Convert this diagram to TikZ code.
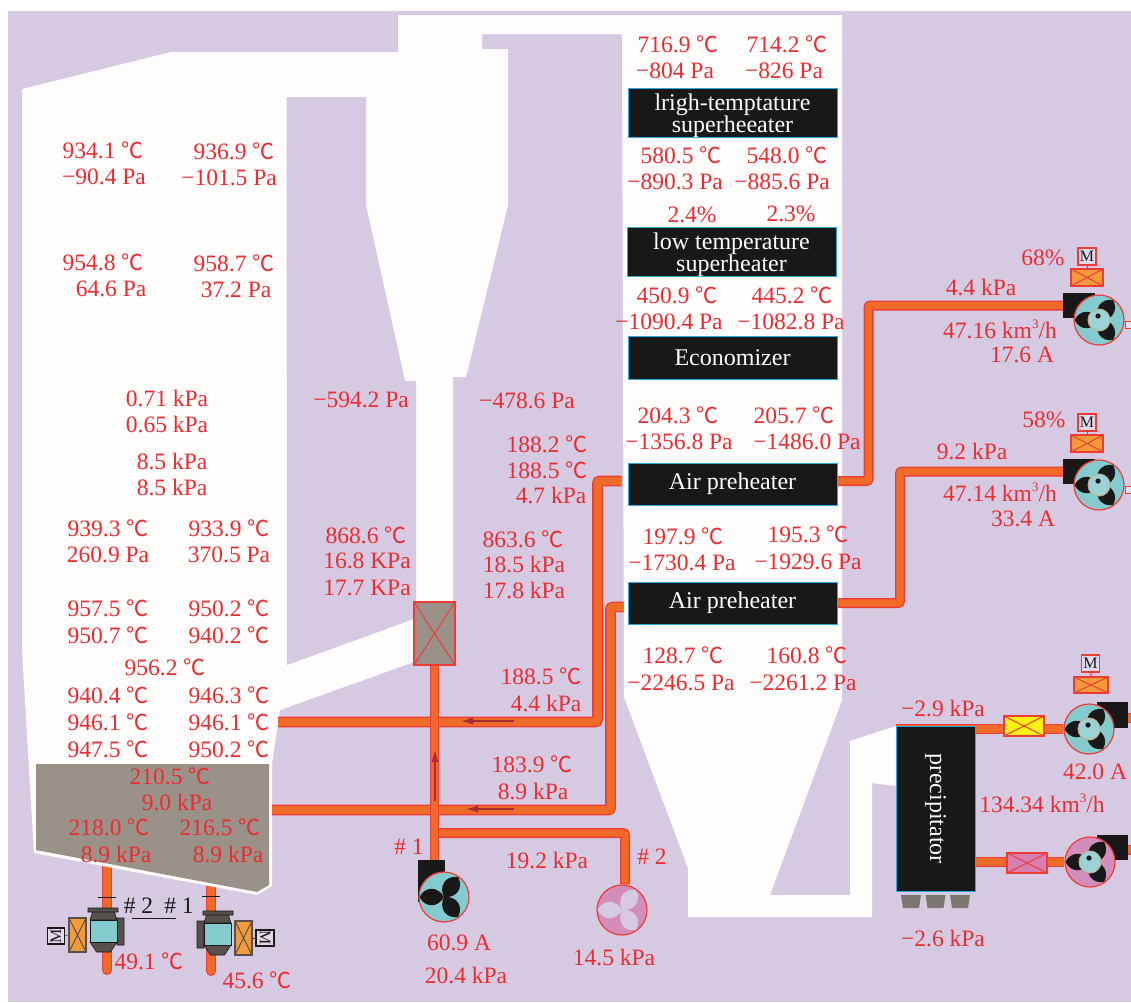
\documentclass[tikz,border=0pt]{standalone}
\usepackage{fontspec}
\setmainfont{Liberation Serif}
\newfontfamily\cjk{Noto Sans CJK SC}
\usepackage{xcolor}
\usepackage{tikz}
\usetikzlibrary{positioning, arrows.meta}
\definecolor{lavbg}{HTML}{D6CAE2}
\definecolor{whitefur}{HTML}{FEFDFC}
\definecolor{valred}{HTML}{EA2B2F}
\definecolor{pipeorange}{HTML}{F06A28}
\definecolor{pipered}{HTML}{EE3B36}
\definecolor{boxblack}{HTML}{181818}
\definecolor{boxcyan}{HTML}{29A9E0}
\definecolor{hullgray}{HTML}{9A9189}
\definecolor{flowred}{HTML}{A62B37}
\definecolor{fanteal}{HTML}{84CBCF}
\definecolor{fanpink}{HTML}{D38DBB}
\definecolor{hubteal}{HTML}{9BD2D5}
\definecolor{hubtan}{HTML}{C2AE94}
\definecolor{dampyellow}{HTML}{FFF212}
\definecolor{damporange}{HTML}{F39A3B}
\definecolor{damppink}{HTML}{D67FB0}
\definecolor{feedgray}{HTML}{57514D}
\definecolor{ashgray}{HTML}{7C7670}
\newcommand{\dg}{{\cjk\fontsize{22}{22}\selectfont ℃}}
\newcommand{\cube}{\raisebox{.42em}{\fontsize{13}{13}\selectfont 3}}
\pgfdeclarelayer{under}
\pgfsetlayers{under,main}

\begin{document}
\begin{tikzpicture}[
    x=1pt, y=-1pt,
    val/.style={text=valred, font=\fontsize{23.5}{25}\selectfont, inner sep=0pt},
    dark/.style={text=boxblack, font=\fontsize{23.5}{25}\selectfont, inner sep=0pt},
    unit/.style={draw=boxcyan, fill=boxblack, text=white, line width=1pt, minimum width=209pt, align=center,
        inner sep=0pt, font=\fontsize{24}{21}\selectfont},
    pipe/.style={draw=pipered, double=pipeorange, double distance=7.4pt, line width=1.3pt, rounded corners=2pt},
    flow/.style={draw=flowred, line width=1.3pt, -{Latex[length=12pt,width=7pt]}},
    fan/.style={circle, draw=pipered, line width=1.2pt, minimum size=50pt, inner sep=0pt},
    fanbox/.style={fill=boxblack, inner sep=0pt},
    xline/.style={pipered},
    damper/.style={draw=pipered, line width=1.2pt, inner sep=0pt,
        path picture={\draw[xline, line width=1pt]
            (path picture bounding box.north west) -- (path picture bounding box.south east)
            (path picture bounding box.north east) -- (path picture bounding box.south west);}},
    mbox/.style={draw=pipered, fill=lavbg!70!white, line width=1.1pt, minimum width=18pt, minimum height=17pt,
        inner sep=0pt, text=boxblack, font=\fontsize{16}{16}\selectfont},
    wheel/.pic={\foreach \a in {180,-55,55}
        \path[pic actions, rotate=\a] (24.5,0) .. controls (19,11) and (6,11) .. (0,0) .. controls (6,-11) and (19,-11) .. (24.5,0);},
    hub/.pic={\path[draw=hubtan, fill=hubteal, line width=1pt] (0,0) circle (11pt);
        \fill[boxblack] (-1,-4) circle (2.6pt);},
    feeder/.pic={\path[draw=boxblack, fill=feedgray, line width=.6pt] (-15.5,-23) rectangle (14.5,-19)
            (-11,-19) -- (11,-19) -- (13.5,-11) -- (-13.5,-11) -- cycle
            (-13.5,11) -- (13.5,11) -- (7,21) -- (-7,21) -- cycle
            (13.5,-13) rectangle (20.5,14);
        \path[draw=boxblack, fill=fanteal, line width=.8pt] (-13.5,-11) rectangle (13.5,11);},
]
\useasboundingbox (0,0) rectangle (1131,1002);

\begin{pgfonlayer}{under}
\fill[lavbg] (7.5,10.5) rectangle (1131,1002);
% coal feeder pipes
\coordinate (ftb) at (107,860);
\coordinate (feb) at (107,970);
\coordinate (fta) at (211,880);
\coordinate (fea) at (211,971);
\draw[pipe, line cap=round] (ftb) -- (feb);
\draw[pipe, line cap=round] (fta) -- (fea);
% furnace, cyclone and return duct
\fill[whitefur] (22,89) -- (171,52) -- (398,52) -- (398,15) -- (842,15) -- (842,700) -- (770,895) -- (850,895)
    -- (850,741) -- (896,726) -- (896,786) -- (872,783) -- (872,917) -- (688,917) -- (688,868) -- (624,697)
    -- (622,34) -- (482,34) -- (482,49) -- (508,49) -- (508,205) -- (466,377) -- (453,377) -- (453,665)
    -- (414,662) -- (280,710) -- (272,764) -- (272,886) -- (257,895) -- (34,853) -- (22,650) -- cycle;
\fill[lavbg] (286.5,97) -- (366,97) -- (366,205) -- (405,381) -- (416,381) -- (416,602) -- (414,619) -- (287,665) -- cycle;
\fill[hullgray] (36,764) -- (269,764) -- (269,885) -- (257,892) -- (36,850) -- cycle;
\end{pgfonlayer}

% heating surfaces
\node[unit, minimum height=48pt] (hts) at (732.5,113) {\rule{0pt}{22pt}lrigh-temptature\\superheeater};
\node[unit, minimum height=48pt] (lts) at (731.5,252) {\rule{0pt}{22pt}low temperature\\superheater};
\node[unit, minimum height=43pt] (eco) at (732.5,357.5) {Economizer};
\node[unit, minimum height=42pt] (apa) at (732.5,484) {\raisebox{-2pt}{Air preheater}};
\node[unit, minimum height=42pt] (apb) at (732.5,603) {\raisebox{-2pt}{Air preheater}};
\node[unit, rotate=-90, minimum width=165pt, minimum height=79pt] (prec) at (935.5,808.5) {precipitator};
\foreach \ax in {911, 935.5, 960}
    \fill[ashgray] (\ax-10,895) -- (\ax+10,895) -- (\ax+8,908) -- (\ax-8,908) -- cycle;

% fans
\node[fanbox, minimum width=32pt, minimum height=25pt] (fboxa) at (1079,305.5) {};
\node[fanbox, minimum width=32pt, minimum height=25pt] (fboxb) at (1079,471.5) {};
\node[fanbox, minimum width=31pt, minimum height=26pt] (fboxc) at (1112.5,715) {};
\node[fanbox, minimum width=31pt, minimum height=25pt] (fboxd) at (1112.5,847.5) {};
\node[fanbox, minimum width=27pt, minimum height=42pt] (fboxe) at (431.5,881) {};
\node[fan, fill=fanteal] (fana) at (1099,320) {};
\node[fan, fill=fanteal] (fanb) at (1099,485) {};
\node[fan, fill=fanteal] (fanc) at (1089,729) {};
\node[fan, fill=fanpink] (fand) at (1090,862) {};
\node[fan, fill=fanteal] (fane) at (444,897) {};
\node[fan, fill=fanpink] (fanf) at (622,910) {};
\foreach \wn in {fana, fanb, fanc, fand} {
    \pic[fill=boxblack] at (\wn) {wheel};
    \pic at (\wn) {hub};
}
\pic[fill=boxblack] at (fane) {wheel};
\pic[fill=lavbg] at (fanf) {wheel};

% dampers and motors
\node[damper, fill=hullgray, minimum width=41pt, minimum height=63pt] (xbox) at (434.5,633.5) {};
\node[damper, fill=dampyellow, minimum width=40pt, minimum height=20pt] (dmpy) at (1024,726) {};
\node[damper, fill=damppink, minimum width=40pt, minimum height=20pt] (dmpp) at (1027,863) {};
\node[damper, fill=damporange, minimum width=32pt, minimum height=17pt] (dmpa) at (1087,277.5) {};
\node[damper, fill=damporange, minimum width=32pt, minimum height=17pt] (dmpb) at (1087,443.5) {};
\node[damper, fill=damporange, minimum width=34pt, minimum height=16pt] (dmpc) at (1091,685) {};
\node[mbox] (ma) at (1087,256.5) {M};
\node[mbox] (mb) at (1087,422.5) {M};
\node[mbox] (mc) at (1090.5,663.5) {M};
\draw[pipered, line width=1pt] (ma) -- (dmpa);
\draw[pipered, line width=1pt] (mb) -- (dmpb);
\draw[pipered, line width=1pt] (mc) -- (dmpc);

\begin{pgfonlayer}{under}
\coordinate (fura) at (278,722);
\coordinate (furb) at (272,810);
\coordinate (pjn) at (435,833);
\draw[pipe] ([yshift=3pt]apa.east) -- ++(31,0) |- (fboxa.west);
\draw[pipe] (apb.east) -- ++(62.5,0) |- (fboxb.west);
\draw[pipe, double distance=8pt, shorten <=6pt] ([yshift=3pt]apa.west) -- ++(-30,0) |- (fura);
\draw[pipe, double distance=8pt, shorten <=4pt] ([yshift=-4pt]apb.west) -- ++(-17,0) |- (furb);
\draw[pipe] (pjn) -| ([xshift=3pt]fanf.north);
\draw[pipe, double distance=6.3pt] (xbox.south) -- (xbox.south |- fboxe.north);
\draw[pipe] (prec.south |- fanc) -- (fanc);
\draw[pipe] (prec.south |- fand) -- (fand);
\draw[pipe] ([yshift=-3pt]fboxc.east) -- ++(3,0);
\draw[pipe] ([yshift=-2pt]fboxd.east) -- ++(3,0);
\draw[pipered, fill=lavbg!60!white, line width=1pt] (1125,321) rectangle (1133,328);
\draw[pipered, fill=lavbg!60!white, line width=1pt] (1125,486) rectangle (1133,493);
\end{pgfonlayer}

% flow arrows
\coordinate (fla) at (514,721);
\coordinate (flb) at (461,721);
\coordinate (flc) at (514,809);
\coordinate (fld) at (466,809);
\coordinate (fle) at (435,801);
\coordinate (flf) at (435,750);
\draw[flow] (fla) -- (flb);
\draw[flow] (flc) -- (fld);
\draw[flow] (fle) -- (flf);

% coal feeders
\pic at (103.5,931) {feeder};
\pic[xscale=-1] at (217.5,934) {feeder};
\node[damper, draw=feedgray, xline/.style={feedgray}, fill=damporange, minimum width=17pt, minimum height=34pt] (dmpl) at (77.5,935) {};
\node[damper, draw=feedgray, xline/.style={feedgray}, fill=damporange, minimum width=17pt, minimum height=34pt] (dmpr) at (243.5,938) {};
\node[mbox, draw=boxblack, rotate=90, minimum width=16pt, minimum height=17pt] (ml) at (56,936) {M};
\node[mbox, draw=boxblack, rotate=-90, minimum width=16pt, minimum height=18pt] (mr) at (265,938) {M};
\draw[boxblack] (ml) -- (dmpl);
\draw[boxblack] (mr) -- (dmpr);
\draw[boxblack, line width=1pt] (98,897) -- (116,897);
\draw[boxblack, line width=1pt] (202,896) -- (220,896);
\draw[boxblack, line width=1pt] (132,918) -- (176,918);
\node[dark] (nob) at (138.5,906) {\# 2};
\node[dark] (noa) at (179,906) {\# 1};

% readings
\foreach \px/\py/\vt [count=\i] in {
    103/150/{934.1 \dg}, 104/177/{−90.4 Pa}, 234/151/{936.9 \dg}, 229/178/{−101.5 Pa},
    103/262/{954.8 \dg}, 111/289/{64.6 Pa}, 234/263/{958.7 \dg}, 236/290/{37.2 Pa},
    167/399/{0.71 kPa}, 167/425/{0.65 kPa}, 172/462/{8.5 kPa}, 172/488/{8.5 kPa},
    108/528/{939.3 \dg}, 108/555/{260.9 Pa}, 229/528/{933.9 \dg}, 229/555/{370.5 Pa},
    108/608/{957.5 \dg}, 108/635/{950.7 \dg}, 229/608/{950.2 \dg}, 229/635/{940.2 \dg},
    165/667/{956.2 \dg},
    108/695/{940.4 \dg}, 108/722/{946.1 \dg}, 108/749/{947.5 \dg},
    229/695/{946.3 \dg}, 229/722/{946.1 \dg}, 229/749/{950.2 \dg},
    170/776/{210.5 \dg}, 177/802/{9.0 kPa}, 109/827/{218.0 \dg}, 116/854/{8.9 kPa},
    220/827/{216.5 \dg}, 228/854/{8.9 kPa}, 149/961/{49.1 \dg}, 257/980/{45.6 \dg},
    361/400/{−594.2 Pa}, 527/401/{−478.6 Pa},
    547/444/{188.2 \dg}, 547/470/{188.5 \dg}, 551/496/{4.7 kPa},
    366/535/{868.6 \dg}, 367/561/{16.8 KPa}, 367/588/{17.7 KPa},
    523/539/{863.6 \dg}, 524/565/{18.5 kPa}, 524/591/{17.8 kPa},
    541/676/{188.5 \dg}, 546/703/{4.4 kPa}, 532/764/{183.9 \dg}, 533/791/{8.9 kPa},
    409/847/{\# 1}, 547/860/{19.2 kPa}, 652/857/{\# 2},
    459/943/{60.9 A}, 466/975/{20.4 kPa}, 614/957/{14.5 kPa},
    678/44/{716.9 \dg}, 675/71/{−804 Pa}, 787/44/{714.2 \dg}, 784/71/{−826 Pa},
    681/155/{580.5 \dg}, 675/182/{−890.3 Pa}, 787/155/{548.0 \dg}, 782/182/{−885.6 Pa},
    692/215/{2.4\%}, 791/214/{2.3\%},
    677/295/{450.9 \dg}, 669/322/{−1090.4 Pa}, 792/295/{445.2 \dg}, 791/322/{−1082.8 Pa},
    678/415/{204.3 \dg}, 679/442/{−1356.8 Pa}, 794/415/{205.7 \dg}, 807/442/{−1486.0 Pa},
    683/536/{197.9 \dg}, 682/563/{−1730.4 Pa}, 808/534/{195.3 \dg}, 808/562/{−1929.6 Pa},
    683/655/{128.7 \dg}, 681/683/{−2246.5 Pa}, 807/655/{160.8 \dg}, 803/683/{−2261.2 Pa},
    981/288/{4.4 kPa}, 1000/329/{47.16 km\cube/h}, 1022/355/{17.6 A}, 1043/258/{68\%},
    972/452/{9.2 kPa}, 1000/492/{47.14 km\cube/h}, 1023/519/{33.4 A}, 1044/420/{58\%},
    943/708/{−2.9 kPa}, 1095/772/{42.0 A}, 1042/803/{134.34 km\cube/h}, 943/938/{−2.6 kPa}}
    \node[val] (v\i) at (\px,\py) {\vt};
\end{tikzpicture}
\end{document}
